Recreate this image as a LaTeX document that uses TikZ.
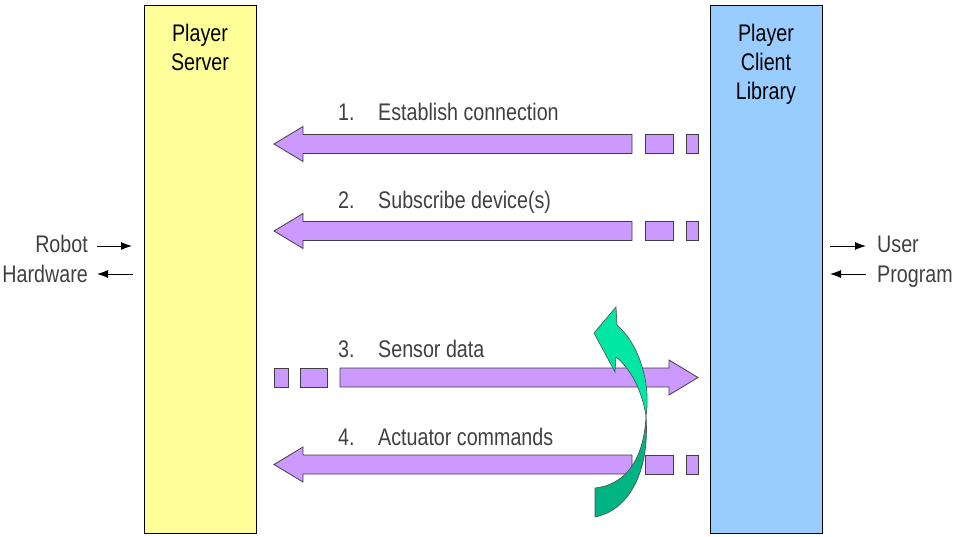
\documentclass[tikz,border=0pt]{standalone}
\usepackage{fontspec}
\setmainfont{Liberation Sans}[FakeStretch=0.82]
\usetikzlibrary{arrows.meta}
\definecolor{playeryellow}{HTML}{FFFF99}
\definecolor{playerblue}{HTML}{99CCFF}
\definecolor{arrowpurple}{HTML}{CC99FF}
\definecolor{textgray}{HTML}{404040}
\definecolor{greenlight}{HTML}{00E6A5}
\definecolor{greendark}{HTML}{00B383}
\begin{document}
\begin{tikzpicture}[x=1pt,y=-1pt,line join=miter]
\useasboundingbox (0,0) rectangle (955,537);
\tikzset{
  panel/.style={draw=black,line width=0.9pt,minimum width=112pt,minimum height=528pt,anchor=north west,inner sep=0},
  fatarrow/.style={draw=black!75,fill=arrowpurple,line width=0.8pt},
  lbl/.style={inner sep=0,text=textgray,font=\fontsize{24}{29}\selectfont,anchor=base west},
  boxtxt/.style={inner sep=0,text=black,font=\fontsize{24}{29}\selectfont,anchor=base},
  smallarrow/.style={-{Latex[length=11pt,width=8pt]},line width=0.9pt},
  ribbon/.style={draw=black!70,line width=0.6pt},
  leftfat/.pic={
    \draw[fatarrow] (303,-9.5) -- (303,-17.5) -- (274,0) -- (303,17.5) -- (303,9.5) -- (632,9.5) -- (632,-9.5) -- cycle;
    \draw[fatarrow] (645,-9.5) rectangle (673,9.5);
    \draw[fatarrow] (686,-9.5) rectangle (698,9.5);
  },
  rightfat/.pic={
    \draw[fatarrow] (669,-9.5) -- (669,-17.5) -- (698,0) -- (669,17.5) -- (669,9.5) -- (340,9.5) -- (340,-9.5) -- cycle;
    \draw[fatarrow] (300,-9.5) rectangle (327,9.5);
    \draw[fatarrow] (274,-9.5) rectangle (288,9.5);
  }
}
% panels
\node[panel,fill=playeryellow] (server) at (144,5) {};
\node[panel,fill=playerblue] (client) at (710,5) {};
\node[boxtxt] (srvA) at (200,42) {Player};
\node[boxtxt] (srvB) at (200,71) {Server};
\node[boxtxt] (cliA) at (766,42) {Player};
\node[boxtxt] (cliB) at (766,71) {Client};
\node[boxtxt] (cliC) at (766,100) {Library};
% side labels
\node[lbl,anchor=base east] (robot) at (88,253) {Robot};
\node[lbl,anchor=base east] (hw) at (88,282) {Hardware};
\node[lbl] (user) at (877,253) {User};
\node[lbl] (prog) at (877,282) {Program};
\coordinate (ra1) at (97,246); \coordinate (ra2) at (132,246);
\coordinate (rb1) at (133,274); \coordinate (rb2) at (97,274);
\coordinate (ua1) at (830,246); \coordinate (ua2) at (866,246);
\coordinate (ub1) at (866,274); \coordinate (ub2) at (830,274);
\draw[smallarrow] (ra1) -- (ra2);
\draw[smallarrow] (rb1) -- (rb2);
\draw[smallarrow] (ua1) -- (ua2);
\draw[smallarrow] (ub1) -- (ub2);
% fat arrows
\pic at (0,144) {leftfat};
\pic at (0,231) {leftfat};
\pic at (0,377.5) {rightfat};
\pic at (0,464.5) {leftfat};
% labels
\node[lbl] (n1) at (338,121) {1.};
\node[lbl] (t1) at (378,121) {Establish connection};
\node[lbl] (n2) at (338,209) {2.};
\node[lbl] (t2) at (378,209) {Subscribe device(s)};
\node[lbl] (n3) at (338,357) {3.};
\node[lbl] (t3) at (378,357) {Sensor data};
\node[lbl] (n4) at (338,445) {4.};
\node[lbl] (t4) at (378,445) {Actuator commands};
% green curved arrow
\draw[ribbon,fill=greendark] (646,416) .. controls (644,460) and (625,485) .. (595,488) -- (595,517) .. controls (630,510) and (650,470) .. (646,416) -- cycle;
\draw[ribbon,fill=greenlight] (616,307) -- (594,333) -- (615,372) -- (616,357) .. controls (630,368) and (642,390) .. (646,416) .. controls (651,385) and (640,345) .. (617,325) -- cycle;
\end{tikzpicture}
\end{document}
